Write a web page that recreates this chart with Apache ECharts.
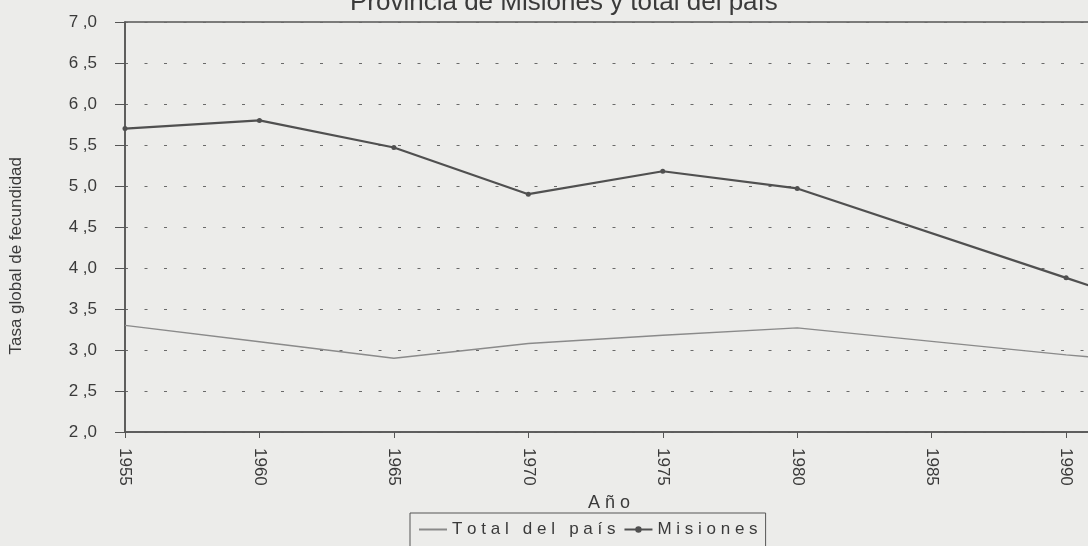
<!DOCTYPE html>
<html>
<head>
<meta charset="utf-8">
<script src="https://cdn.jsdelivr.net/npm/echarts@6/dist/echarts.min.js"></script>
<style>
  html, body { margin: 0; padding: 0; background: #ececea; overflow: hidden; }
  #chart { width: 1088px; height: 546px; }
</style>
</head>
<body>
<div id="chart"></div>
<script>
// years; 1995 is only the continuation past the cropped edge
const years = [1955, 1960, 1965, 1970, 1975, 1980, 1985, 1990, 1995];
const totalPais = [3.3, 3.1, 2.9, 3.08, 3.18, 3.27, null, 2.94, 2.8];
const misiones = [5.7, 5.8, 5.47, 4.9, 5.18, 4.97, null, 3.88, 3.34];
const yTicks = [2.0, 2.5, 3.0, 3.5, 4.0, 4.5, 5.0, 5.5, 6.0, 6.5, 7.0];

const chartDom = document.getElementById('chart');
const myChart = echarts.init(chartDom, null, { renderer: 'canvas' });

const font = 'Liberation Sans, Arial, sans-serif';
const spaced = (s) => s.split('').join(' ');

const option = {
    backgroundColor: '#ececea',
    animation: false,
    title: {
        text: 'Provincia de Misiones y total del país',
        left: 345,
        top: -15,
        textStyle: { fontFamily: font, fontSize: 26, fontWeight: 'normal', color: '#3a3a3a' }
    },
    legend: {
        left: 410,
        top: 513,
        data: [
            { name: 'Total del país', itemStyle: { color: 'rgba(0,0,0,0)', borderWidth: 0, opacity: 0 } },
            { name: 'Misiones' }
        ],
        formatter: spaced,
        itemWidth: 28,
        itemHeight: 8,
        itemGap: 8,
        padding: [8, 8, 14, 8],
        borderColor: '#555',
        borderWidth: 1,
        borderRadius: 0,
        textStyle: { fontFamily: font, fontSize: 17, color: '#3a3a3a' }
    },
    grid: {
        left: 125,
        right: -5,
        top: 22,
        bottom: 114,
        outerBoundsMode: 'none',
        containLabel: false,
        show: true,
        borderColor: '#555',
        borderWidth: 1.5,
        backgroundColor: 'transparent'
    },
    xAxis: {
        type: 'value',
        min: 1955,
        max: 1991,
        interval: 5,
        name: spaced('Año'),
        nameLocation: 'middle',
        nameGap: 62,
        nameTextStyle: { fontFamily: font, fontSize: 18, color: '#3a3a3a' },
        axisLine: { lineStyle: { color: '#555', width: 1.5 } },
        axisTick: { length: 6, lineStyle: { color: '#555' } },
        axisLabel: {
            rotate: -90,
            margin: 16,
            showMaxLabel: false,
            fontFamily: font,
            fontSize: 17,
            color: '#3a3a3a',
            formatter: (v) => (years.indexOf(v) >= 0 ? String(v) : '')
        },
        splitLine: { show: false }
    },
    yAxis: {
        type: 'value',
        min: 2,
        max: 7,
        interval: 0.5,
        axisLine: { show: true, lineStyle: { color: '#555', width: 1.5 } },
        axisTick: { show: true, length: 10, lineStyle: { color: '#555' } },
        axisLabel: {
            margin: 28,
            fontFamily: font,
            fontSize: 17,
            color: '#3a3a3a',
            formatter: (v) => {
                const t = yTicks.find(x => Math.abs(x - v) < 1e-6);
                return t === undefined ? '' : t.toFixed(1).replace('.', ' ,');
            }
        },
        splitLine: {
            show: true,
            lineStyle: { color: '#6a6a6a', width: 1.2, type: [3, 16.5] }
        }
    },
    graphic: [
        {
            type: 'text',
            left: 8,
            top: 157,
            rotation: Math.PI / 2,
            style: {
                text: 'Tasa global de fecundidad',
                fontFamily: font,
                fontSize: 17,
                fill: '#3a3a3a'
            }
        }
    ],
    series: [
        {
            name: 'Total del país',
            type: 'line',
            data: years.map((y, i) => [y, totalPais[i]]),
            connectNulls: true,
            showSymbol: false,
            symbol: 'none',
            lineStyle: { color: '#8a8a8a', width: 1.4 },
            itemStyle: { color: '#8a8a8a' }
        },
        {
            name: 'Misiones',
            type: 'line',
            data: years.map((y, i) => [y, misiones[i]]),
            connectNulls: true,
            symbol: 'circle',
            symbolSize: 5,
            lineStyle: { color: '#505050', width: 2.2 },
            itemStyle: { color: '#505050' }
        }
    ]
};

myChart.setOption(option);
window.addEventListener('resize', myChart.resize);
</script>
</body>
</html>
